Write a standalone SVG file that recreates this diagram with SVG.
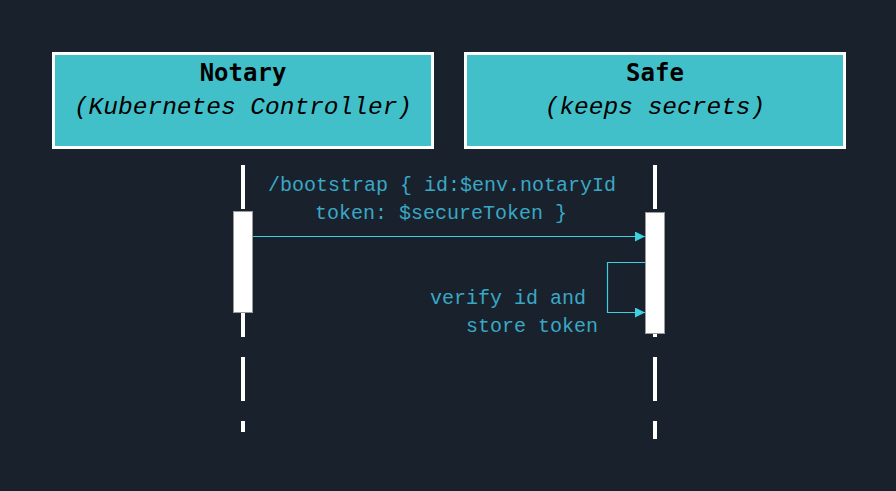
<svg xmlns="http://www.w3.org/2000/svg" width="896" height="491" viewBox="0 0 896 491">
<style>
.box{fill:#42c0ca;stroke:#ffffff;stroke-width:3}
.title{font-family:"DejaVu Sans Mono","Liberation Mono",monospace;font-weight:bold;font-size:24px;fill:#000;text-anchor:middle}
.sub{font-family:"Liberation Mono","DejaVu Sans Mono",monospace;font-style:italic;font-size:24.5px;fill:#000;text-anchor:middle}
.life{stroke:#ffffff;stroke-width:4;stroke-dasharray:44 20;fill:none}
.act{fill:#ffffff;stroke:#9a9a9a;stroke-width:1}
.msg{stroke:#3ecfe0;stroke-width:1.2;fill:none}
.lbl{font-family:"Liberation Mono","DejaVu Sans Mono",monospace;font-size:20px;fill:#3aa8c4}
</style>
<defs>
<marker id="ah" viewBox="0 0 10 10" refX="10" refY="5" markerWidth="11" markerHeight="10" markerUnits="userSpaceOnUse" orient="auto">
<path d="M0,0 L10,5 L0,10 z" fill="#3ecfe0"/>
</marker>
</defs>
<rect width="896" height="491" fill="#19212d"/>
<g id="notary">
<rect class="box" x="53.5" y="53.5" width="379" height="94"/>
<text class="title" x="243" y="81">Notary</text>
<text class="sub" x="243" y="114">(Kubernetes Controller)</text>
</g>
<g id="safe">
<rect class="box" x="465.5" y="53.5" width="379" height="94"/>
<text class="title" x="655" y="81">Safe</text>
<text class="sub" x="655" y="114">(keeps secrets)</text>
</g>
<g id="lifelines">
<line class="life" x1="243" y1="165" x2="243" y2="432"/>
<line class="life" x1="655" y1="165" x2="655" y2="439"/>
</g>
<g id="activations">
<rect class="act" x="233.5" y="211.5" width="19" height="101"/>
<rect class="act" x="645.5" y="212.5" width="19" height="121"/>
</g>
<g id="connectors">
<line class="msg" x1="253" y1="236.5" x2="645" y2="236.5" marker-end="url(#ah)"/>
<polyline class="msg" points="645,262.5 607.5,262.5 607.5,312.5 645,312.5" marker-end="url(#ah)"/>
</g>
<g id="labels">
<text class="lbl" x="442" y="191" text-anchor="middle">/bootstrap { id:$env.notaryId</text>
<text class="lbl" x="441" y="219" text-anchor="middle">token: $secureToken }</text>
<text class="lbl" x="430" y="304">verify id and</text>
<text class="lbl" x="466" y="332">store token</text>
</g>
</svg>
